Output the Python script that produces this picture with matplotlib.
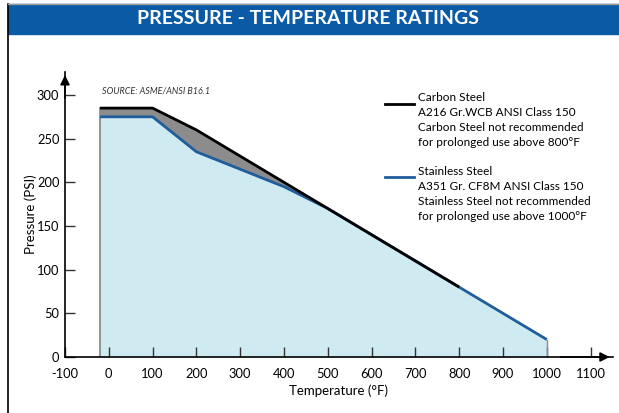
import matplotlib.pyplot as plt
from matplotlib.patches import Rectangle
from matplotlib.lines import Line2D

# pressure-temperature data (ASME class 150)
temp_cs = [-20, 100, 200, 300, 400, 500, 600, 700, 800]
psi_cs = [285, 285, 260, 230, 200, 170, 140, 110, 80]
temp_ss = [-20, 100, 200, 300, 400, 500, 600, 700, 800, 900, 1000]
psi_ss = [275, 275, 235, 215, 195, 170, 140, 110, 80, 50, 20]
xticks = [-100, 0, 100, 200, 300, 400, 500, 600, 700, 800, 900, 1000, 1100]
yticks = [0, 50, 100, 150, 200, 250, 300]

plt.rcParams['font.family'] = ['Lato', 'DejaVu Sans']

fig = plt.figure(figsize=(6.19, 4.13), dpi=100)

# banner and frame
fig.patches.append(Rectangle((8/619, (413-34)/413), 1, 30/413, transform=fig.transFigure,
                             color='#0b5aa6', zorder=0))
fig.lines.append(Line2D([8/619, 8/619], [0, (413-4)/413], transform=fig.transFigure, color='k', lw=1.2))
fig.lines.append(Line2D([8/619, 1], [(413-4)/413]*2, transform=fig.transFigure, color='#999999', lw=1))
fig.text(0.497, (413-19)/413, 'PRESSURE - TEMPERATURE RATINGS', color='white', fontsize=14,
         fontweight='bold', ha='center', va='center')

ax = fig.add_axes([65/619, 56/413, 547.5/619, 284.7/413])
ax.set_xlim(-100, 1150)
ax.set_ylim(0, 326)

ax.fill_between(temp_ss, 0, psi_ss, color='#cfebf1', lw=0)
ax.fill_between(temp_cs, psi_ss[:len(temp_cs)], psi_cs, color='#8c8c8c', lw=0)
ax.plot([-20, -20], [0, 285], color='#8a8a8a', lw=1.3)
ax.plot([1000, 1000], [0, 20], color='#8a8a8a', lw=1)
ax.plot(temp_ss, psi_ss, color='#1f5d9c', lw=2, solid_capstyle='butt')
ax.plot(temp_cs, psi_cs, color='black', lw=2, solid_capstyle='butt')

for s in ['top', 'right']:
    ax.spines[s].set_visible(False)
for s in ['left', 'bottom']:
    ax.spines[s].set_linewidth(1.2)

ax.set_xticks(xticks)
ax.set_xticklabels([str(t) for t in xticks])
ax.set_yticks(yticks)
ax.tick_params(direction='in', length=7, width=1, colors='#333333', labelsize=9.3, labelcolor='black')
ax.tick_params(axis='x', pad=8)
ax.tick_params(axis='y', pad=4)

# axis arrows
ax.annotate('', xy=(0, 1.0), xycoords='axes fraction', xytext=(0, 0.9),
            arrowprops=dict(arrowstyle='-|>', color='k', lw=1.2, mutation_scale=14))
ax.annotate('', xy=(1.0, 0), xycoords='axes fraction', xytext=(0.9, 0),
            arrowprops=dict(arrowstyle='-|>', color='k', lw=1.2, mutation_scale=14))

ax.set_xlabel('Temperature (°F)', fontsize=9.5, labelpad=3)
ax.set_ylabel('Pressure (PSI)', fontsize=9.5, labelpad=0)
ax.yaxis.set_label_coords(-(65-37)/547.5, 0.5)

ax.text(-15, 302, 'SOURCE: ASME/ANSI B16.1', fontsize=6.5, style='italic', color='#333333')

# legend
leg_cs = ['Carbon Steel', 'A216 Gr.WCB ANSI Class 150', 'Carbon Steel not recommended',
          'for prolonged use above 800°F']
leg_ss = ['Stainless Steel', 'A351 Gr. CF8M ANSI Class 150', 'Stainless Steel not recommended',
          'for prolonged use above 1000°F']
ax.plot([-100 + (385-65)/0.438, -100 + (414-65)/0.438], [(357-104)/0.8733]*2, color='black', lw=2, clip_on=False)
ax.plot([-100 + (385-65)/0.438, -100 + (414-65)/0.438], [(357-177)/0.8733]*2, color='#1f5d9c', lw=2, clip_on=False)
ax.text(-100 + (418-65)/0.438, (357-92)/0.8733, '\n'.join(leg_cs), fontsize=8.5, va='top', linespacing=1.45)
ax.text(-100 + (418-65)/0.438, (357-166)/0.8733, '\n'.join(leg_ss), fontsize=8.5, va='top', linespacing=1.45)

fig.savefig('out.png', dpi=100)
